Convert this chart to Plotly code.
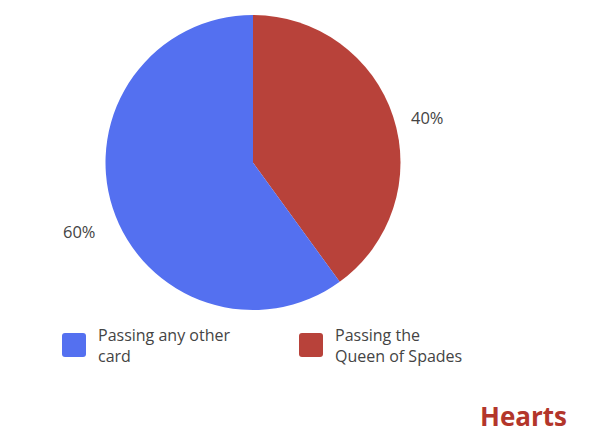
import plotly.graph_objects as go

labels = ["Passing the Queen of Spades", "Passing any other card"]
values = [40, 60]
colors = ["#B8423A", "#5470F0"]
legend_labels = ["Passing any other<br>card", "Passing the<br>Queen of Spades"]
legend_colors = ["#5470F0", "#B8423A"]
pct_labels = [f"{round(100 * v / sum(values))}%" for v in values]

W, H = 600, 443
def px(x): return x / W
def py(y): return 1 - y / H

fig = go.Figure(go.Pie(
    labels=labels, values=values, sort=False, direction="clockwise", rotation=0,
    marker=dict(colors=colors, line=dict(color="white", width=0)),
    textinfo="none",
    domain=dict(x=[px(105), px(401)], y=[py(310), py(15)]),
    showlegend=False, hoverinfo="label+percent",
))

shapes = []
annotations = []
legend_x = [62, 299]
for i, (lab, col) in enumerate(zip(legend_labels, legend_colors)):
    x0 = legend_x[i]; y0 = 333; s = 24; r = 3
    x1 = x0 + s; y1 = y0 + s
    path = (f"M {x0+r} {y0} L {x1-r} {y0} Q {x1} {y0} {x1} {y0+r} L {x1} {y1-r} "
            f"Q {x1} {y1} {x1-r} {y1} L {x0+r} {y1} Q {x0} {y1} {x0} {y1-r} "
            f"L {x0} {y0+r} Q {x0} {y0} {x0+r} {y0} Z")
    shapes.append(dict(type="path", path=path, xref="x", yref="y",
                       fillcolor=col, line=dict(width=0)))
    annotations.append(dict(x=x0 + 34, y=322, xref="x", yref="y", text=lab,
                            showarrow=False, xanchor="left", yanchor="top", align="left",
                            font=dict(family="Open Sans", size=16, color="#444444")))

pct_pos = [(427, 117), (79, 231)]
for t, (x, y) in zip(pct_labels, pct_pos):
    annotations.append(dict(x=x, y=y, xref="x", yref="y", text=t, showarrow=False,
                            xanchor="center", yanchor="middle",
                            font=dict(family="Open Sans", size=16.5, color="#444444")))

annotations.append(dict(x=569, y=416, xref="x", yref="y", text="<b>Hearts</b>",
                        showarrow=False, xanchor="right", yanchor="middle",
                        font=dict(family="Open Sans", size=26, color="#B3362B")))

fig.update_layout(
    width=W, height=H, margin=dict(l=0, r=0, t=0, b=0),
    paper_bgcolor="white", plot_bgcolor="white",
    xaxis=dict(range=[0, W], visible=False, fixedrange=True),
    yaxis=dict(range=[H, 0], visible=False, fixedrange=True),
    shapes=shapes, annotations=annotations,
)
fig.write_html("out.html", config={"displayModeBar": False},
               post_script="document.body.style.margin='0';document.body.style.overflow='hidden';")
